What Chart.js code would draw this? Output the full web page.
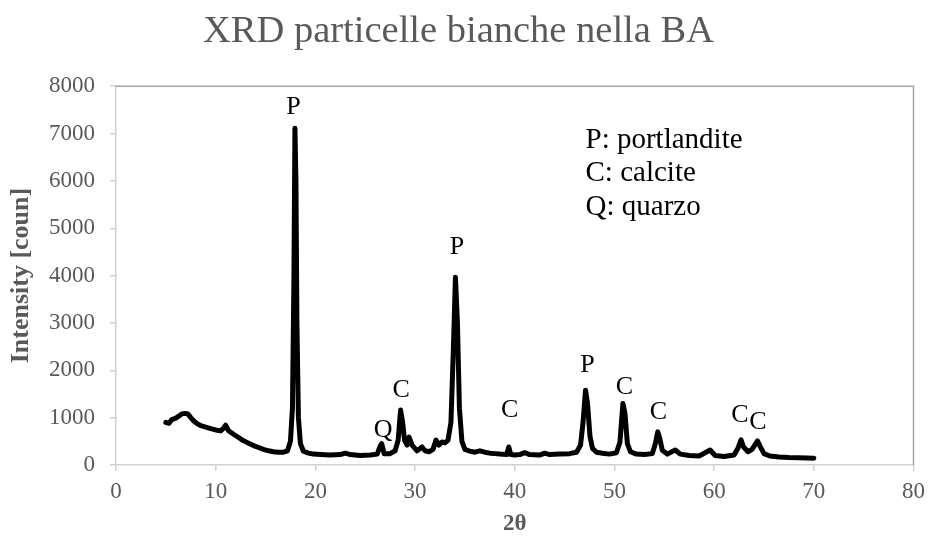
<!DOCTYPE html>
<html>
<head>
<meta charset="utf-8">
<script src="https://cdn.jsdelivr.net/npm/chart.js@4"></script>
<style>
  body { margin: 0; background: #fff; }
  #wrap { width: 932px; height: 541px; }
</style>
</head>
<body>
<div id="wrap"><canvas id="xrdChart" width="932" height="541"></canvas></div>
<script>
// XRD pattern
const twoTheta = [
  5.0, 5.3, 5.6, 6.0, 6.3, 6.6, 6.9, 7.2, 7.5, 7.8, 8.1, 8.5, 9.0, 9.5, 10.0, 10.5, 10.8, 11.0, 11.3, 11.8,
  12.3, 12.8, 13.3, 13.8, 14.3, 14.8, 15.3, 15.8, 16.3, 16.8, 17.2, 17.5, 17.7, 17.85, 17.95, 18.05, 18.15, 18.3, 18.5, 18.8,
  19.3, 19.8, 20.5, 21.5, 22.5, 23.0, 23.5, 24.5, 25.5, 26.2, 26.5, 26.65, 26.9, 27.5, 28.0, 28.3, 28.55, 28.75, 28.95, 29.2,
  29.4, 29.7, 30.2, 30.7, 31.0, 31.4, 31.8, 32.1, 32.4, 32.7, 33.0, 33.3, 33.6, 33.85, 34.05, 34.25, 34.45, 34.7, 35.0, 35.5,
  36.0, 36.5, 37.0, 37.5, 38.0, 38.5, 39.2, 39.4, 39.6, 40.0, 40.5, 41.0, 41.5, 42.5, 43.0, 43.5, 44.5, 45.5, 46.2, 46.6,
  46.85, 47.1, 47.3, 47.55, 47.8, 48.2, 48.8, 49.5, 50.2, 50.55, 50.85, 51.05, 51.3, 51.6, 52.2, 53.0, 53.8, 54.1, 54.35, 54.55,
  54.8, 55.3, 56.1, 56.6, 57.5, 58.5, 59.6, 60.1, 61.0, 62.0, 62.4, 62.7, 62.95, 63.4, 63.8, 64.35, 64.6, 65.0, 65.6, 66.5,
  67.5, 68.5, 69.3, 70.0
];
const counts = [
  900, 880, 960, 990, 1030, 1080, 1090, 1080, 1000, 930, 880, 830, 800, 770, 740, 720, 780, 840, 720, 650,
  580, 510, 460, 410, 370, 330, 300, 280, 270, 270, 300, 500, 1200, 4000, 7110, 6000, 3000, 1000, 450, 290,
  250, 230, 220, 210, 220, 250, 220, 200, 210, 230, 400, 450, 240, 240, 300, 520, 1160, 900, 520, 420,
  590, 420, 300, 380, 300, 280, 330, 527, 420, 485, 470, 520, 900, 2500, 3966, 3000, 1200, 500, 330, 290,
  270, 300, 270, 250, 240, 230, 220, 380, 220, 210, 220, 260, 220, 210, 250, 220, 230, 240, 270, 420,
  900, 1580, 1300, 600, 350, 270, 250, 230, 260, 480, 1300, 1100, 450, 280, 230, 220, 240, 450, 700, 560,
  310, 230, 316, 230, 200, 190, 316, 200, 180, 210, 360, 530, 380, 280, 330, 510, 400, 240, 190, 170,
  160, 155, 150, 145
];

// axis ticks
const xMin = 0, xMax = 80, xStep = 10;
const yMin = 0, yMax = 8000, yStep = 1000;

// peak letters and the key, anchored in data units
const peakLabelText = ['P', 'P', 'Q', 'C', 'C', 'P', 'C', 'C', 'C', 'C'];
const peakLabelX = [17.8, 34.2, 26.8, 28.6, 39.5, 47.3, 51.0, 54.4, 62.6, 64.4];
const peakLabelY = [7560, 4600, 740, 1570, 1160, 2110, 1640, 1110, 1060, 900];
const keyLines = ['P: portlandite', 'C: calcite', 'Q: quarzo'];
const keyX = 47.1;
const keyY = [6860, 6160, 5440];

const grey = '#595959';
const serif = '"Liberation Serif", "Times New Roman", serif';

const frameAndLabels = {
    id: 'frameAndLabels',
    afterDatasetsDraw(chart) {
        const { ctx, chartArea: a, scales: { x, y } } = chart;
        ctx.save();
        // top and right edge of plot box
        ctx.strokeStyle = '#a6a6a6';
        ctx.lineWidth = 1.5;
        ctx.beginPath();
        ctx.moveTo(a.left, a.top);
        ctx.lineTo(a.right, a.top);
        ctx.lineTo(a.right, a.bottom);
        ctx.stroke();

        ctx.fillStyle = '#000';
        ctx.textAlign = 'center';
        ctx.textBaseline = 'middle';
        ctx.font = '26px ' + serif;
        peakLabelText.forEach((t, i) => {
            ctx.fillText(t, x.getPixelForValue(peakLabelX[i]), y.getPixelForValue(peakLabelY[i]));
        });

        ctx.textAlign = 'left';
        ctx.font = '29px ' + serif;
        keyLines.forEach((t, i) => {
            ctx.fillText(t, x.getPixelForValue(keyX), y.getPixelForValue(keyY[i]));
        });
        ctx.restore();
    }
};

new Chart(document.getElementById('xrdChart'), {
    type: 'scatter',
    data: {
        datasets: [{
            data: twoTheta.map((t, i) => ({ x: t, y: counts[i] })),
            showLine: true,
            borderColor: '#000',
            borderWidth: 5,
            pointRadius: 0,
            tension: 0,
            borderJoinStyle: 'round',
            borderCapStyle: 'round'
        }]
    },
    options: {
        responsive: false,
        animation: false,
        layout: { padding: { left: 0, right: 15, top: 0, bottom: 0 } },
        plugins: {
            legend: { display: false },
            tooltip: { enabled: false },
            title: {
                display: true,
                text: 'XRD particelle bianche nella BA',
                color: grey,
                font: { family: serif, size: 38.5, weight: 'normal' },
                padding: { top: 9, bottom: 31 }
            }
        },
        scales: {
            x: {
                type: 'linear',
                min: xMin, max: xMax,
                afterFit: s => { s.height = 76; },
                ticks: { stepSize: xStep, color: grey, padding: 7, font: { family: serif, size: 23 } },
                grid: { drawOnChartArea: false, drawTicks: true, tickLength: 6, color: '#d0d0d0', lineWidth: 1.5 },
                border: { color: '#d0d0d0', width: 1.5 },
                title: {
                    display: true, text: '2θ', color: grey,
                    font: { family: serif, size: 23, weight: 'bold' },
                    padding: { top: 0, bottom: 3 }
                }
            },
            y: {
                min: yMin, max: yMax,
                afterFit: s => { s.width = 116; },
                ticks: {
                    stepSize: yStep, color: grey, padding: 15,
                    font: { family: serif, size: 23 },
                    callback: v => String(v)
                },
                grid: { drawOnChartArea: false, drawTicks: true, tickLength: 6, color: '#d0d0d0', lineWidth: 1.5 },
                border: { color: '#d0d0d0', width: 1.5 },
                title: {
                    display: true, text: 'Intensity [coun]', color: grey,
                    font: { family: serif, size: 26, weight: 'bold' },
                    padding: { top: 6, bottom: 0 }
                }
            }
        }
    },
    plugins: [frameAndLabels]
});
</script>
</body>
</html>
